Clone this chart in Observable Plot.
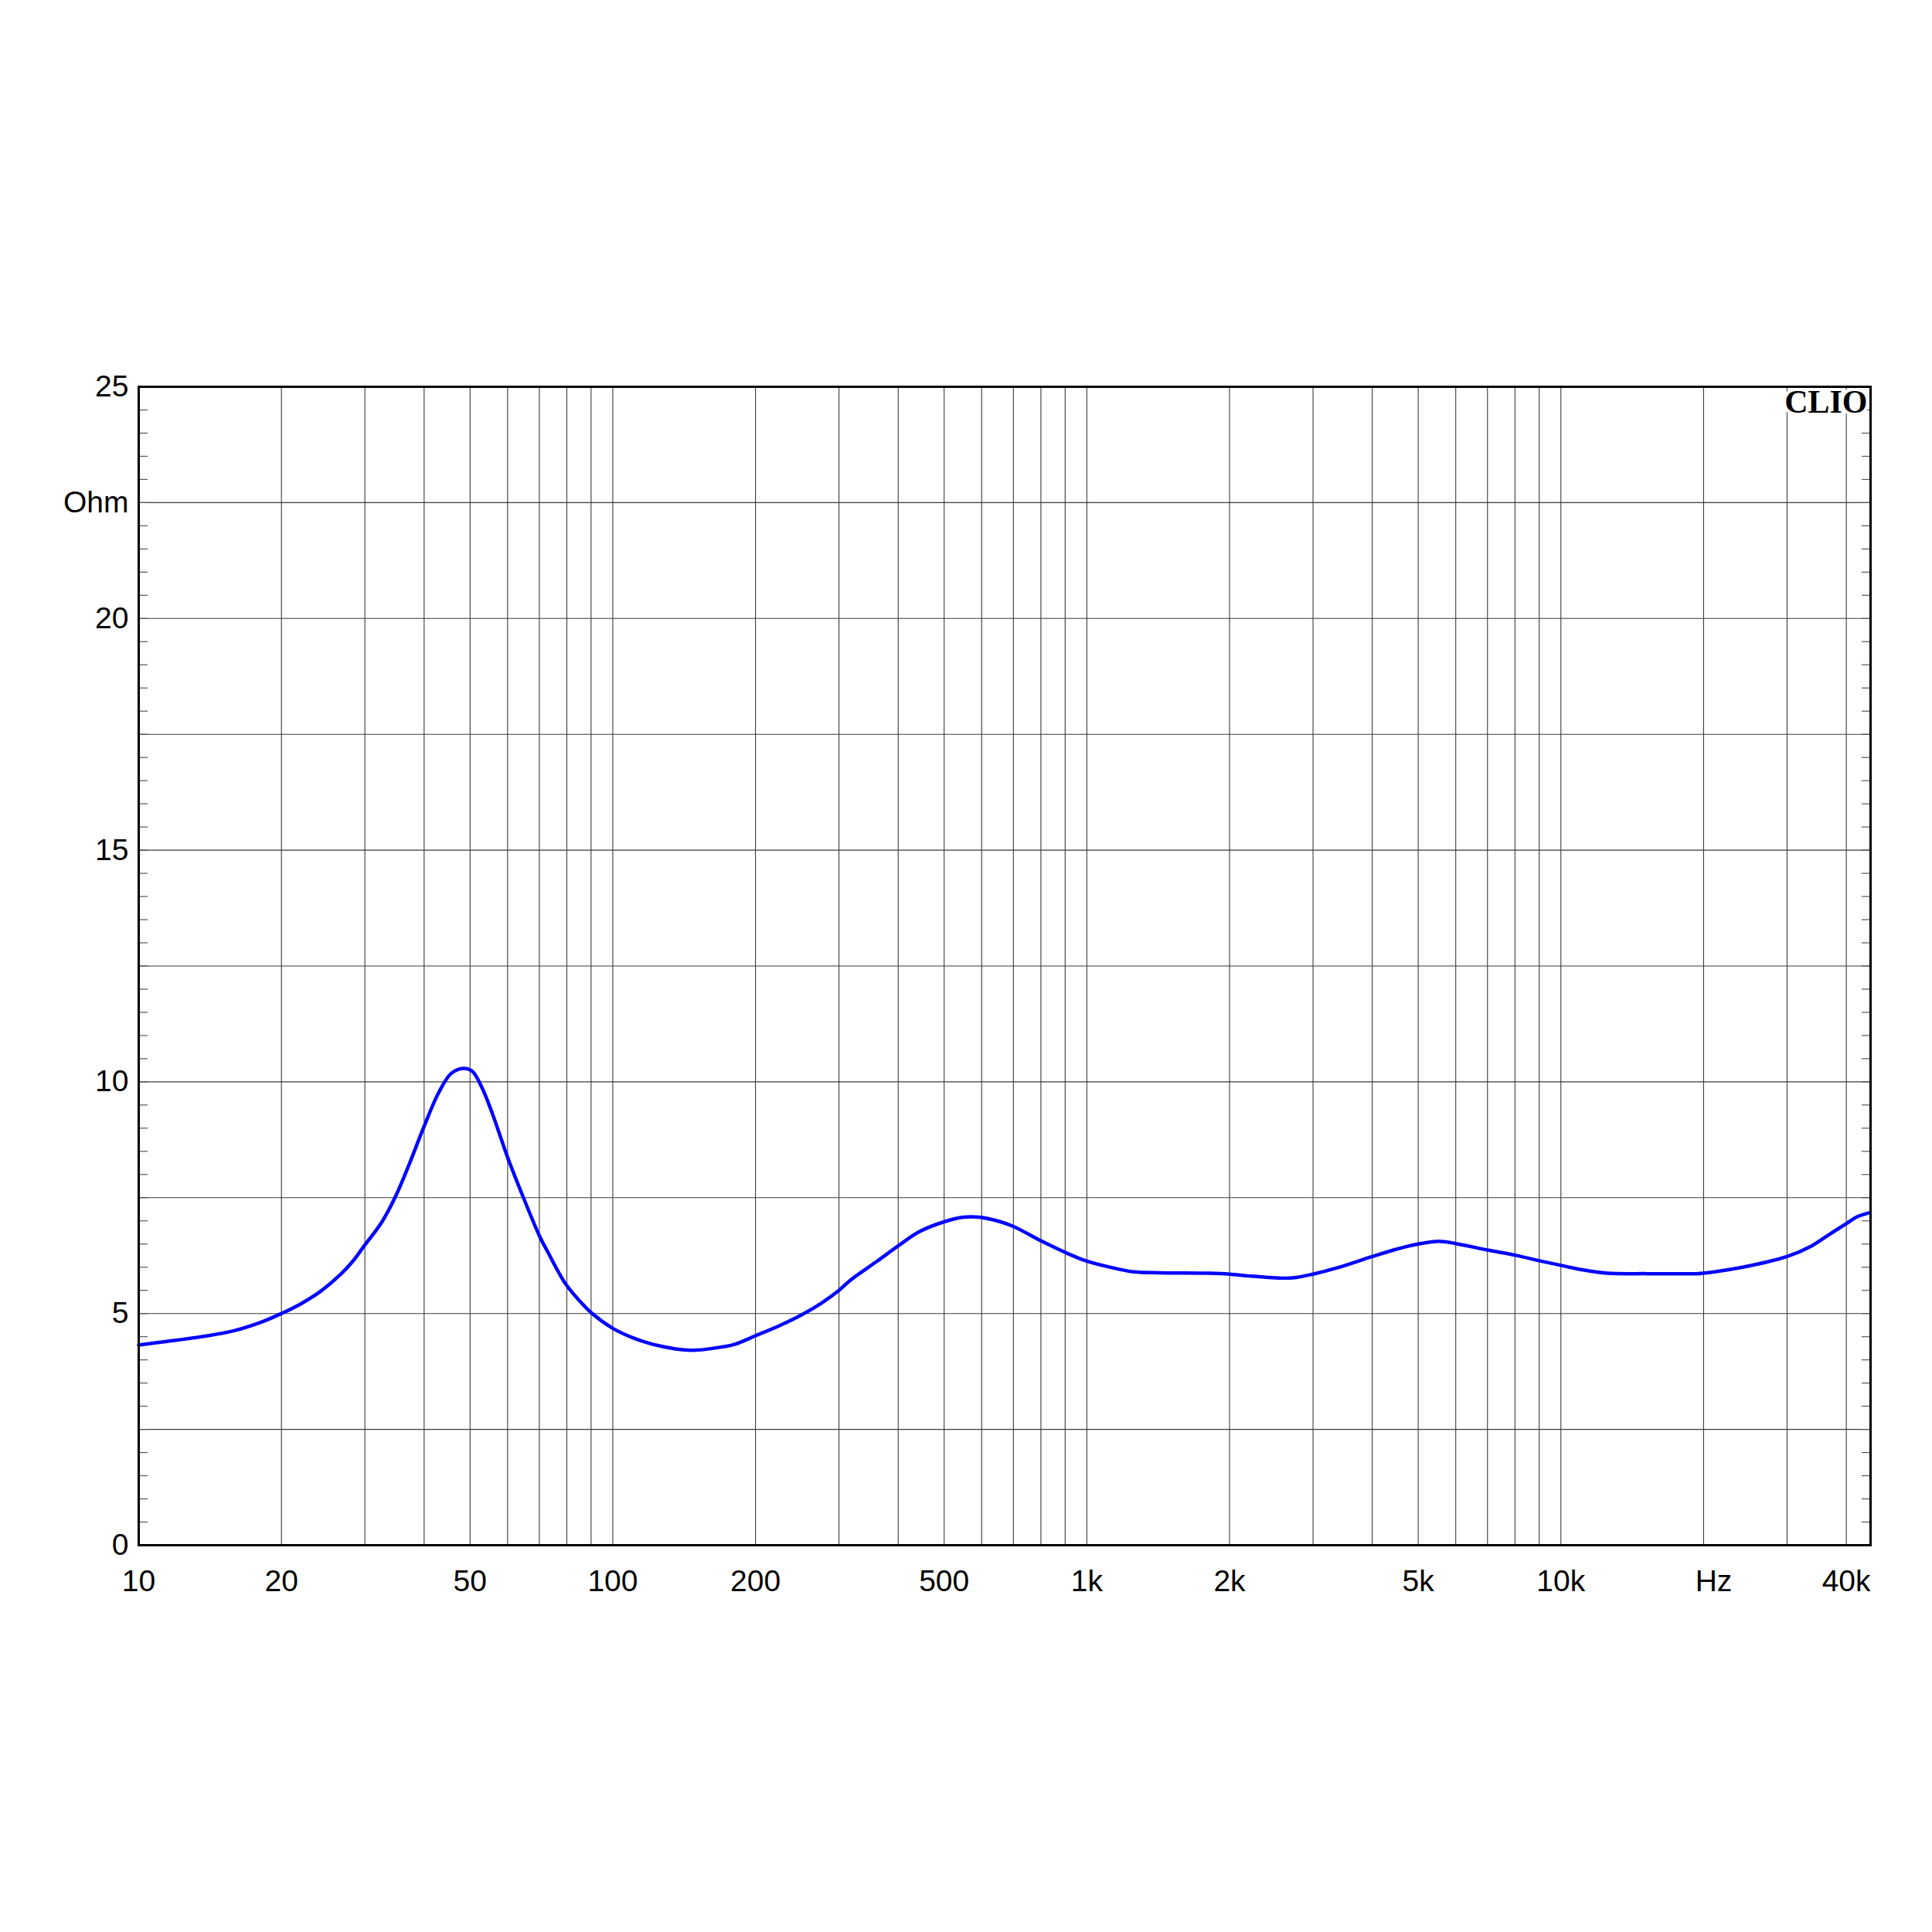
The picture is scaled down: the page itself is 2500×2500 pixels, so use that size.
<!DOCTYPE html>
<html>
<head>
<meta charset="utf-8">
<script src="https://cdn.jsdelivr.net/npm/d3@7"></script>
<script src="https://cdn.jsdelivr.net/npm/@observablehq/plot@0.6"></script>
<style>
  html, body { margin: 0; padding: 0; background: white; }
</style>
</head>
<body>
<div id="chart"></div>
<script>
// Impedance curve (Hz, Ohm)
const freqHz = [10, 11.3, 13.8, 15.9, 18.4, 20, 21.9, 24.2, 26.7, 28.4, 30, 32.6, 34.9, 37.4, 40, 42.9, 45.6, 48.4, 50.5, 53, 55.7, 60, 64.1, 70, 73, 79.4, 85, 90, 100, 110, 120, 130, 140, 150, 160, 180, 200, 225, 250, 275, 300, 318, 360, 400, 444, 500, 550, 592, 647, 700, 800, 900, 1000, 1164, 1255, 1421, 1813, 2000, 2198, 2500, 2723, 3000, 3359, 4000, 4466, 5000, 5528, 6000, 7000, 8000, 9000, 10000, 11130, 12520, 15200, 19330, 20000, 22440, 25550, 30000, 33800, 37000, 40000, 42000, 44500];
const impedanceOhm = [4.32, 4.39, 4.51, 4.63, 4.84, 5.0, 5.2, 5.48, 5.85, 6.15, 6.48, 6.98, 7.55, 8.28, 9.04, 9.76, 10.18, 10.29, 10.23, 9.87, 9.32, 8.37, 7.62, 6.68, 6.32, 5.65, 5.28, 5.02, 4.68, 4.48, 4.35, 4.27, 4.22, 4.21, 4.24, 4.33, 4.52, 4.74, 4.97, 5.22, 5.5, 5.73, 6.12, 6.46, 6.77, 6.98, 7.08, 7.08, 7.0, 6.88, 6.57, 6.32, 6.13, 5.96, 5.9, 5.88, 5.87, 5.85, 5.81, 5.77, 5.77, 5.85, 5.98, 6.23, 6.38, 6.5, 6.56, 6.51, 6.37, 6.26, 6.14, 6.04, 5.94, 5.87, 5.86, 5.86, 5.87, 5.94, 6.05, 6.23, 6.46, 6.72, 6.94, 7.08, 7.17];

// Axis / grid definitions
const xDomain = [10, 45000];
const yDomain = [0, 25];
const xGridFreqs = [20, 30, 40, 50, 60, 70, 80, 90, 100, 200, 300, 400, 500, 600, 700, 800, 900, 1000, 2000, 3000, 4000, 5000, 6000, 7000, 8000, 9000, 10000, 20000, 30000, 40000];
const yGridValues = [2.5, 5, 7.5, 10, 12.5, 15, 17.5, 20, 22.5];
const xTickValues = [10, 20, 50, 100, 200, 500, 1000, 2000, 5000, 10000, 40000];
const xTickLabels = ["10", "20", "50", "100", "200", "500", "1k", "2k", "5k", "10k", "40k"];
const xUnitTick = [20000];
const xUnitLabel = "Hz";
const yTickValues = [0, 5, 10, 15, 20, 22.5, 25];
const yTickLabels = ["0", "5", "10", "15", "20", "Ohm", "25"];
const yMinorTicks = d3.range(0.5, 25, 0.5);
const brandText = "CLIO";

const data = freqHz.map((f, i) => ({f, z: impedanceOhm[i]}));

const chart = Plot.plot({
  width: 2500,
  height: 2500,
  marginTop: 500,
  marginBottom: 501,
  marginLeft: 179,
  marginRight: 80,
  style: {fontFamily: "'Liberation Sans', Arial, sans-serif", fontSize: "39px", background: "white", color: "black"},
  x: {type: "log", domain: xDomain, label: null},
  y: {domain: yDomain, label: null},
  marks: [
    Plot.ruleX(xGridFreqs, {stroke: "#3a3a3a", strokeWidth: 1.1}),
    Plot.ruleY(yGridValues, {stroke: "#3a3a3a", strokeWidth: 1.1}),
    Plot.axisY(yMinorTicks, {anchor: "left", label: null, tickSize: -12, tickFormat: () => "", stroke: "#555", strokeWidth: 1.2}),
    Plot.axisY(yMinorTicks, {anchor: "right", label: null, tickSize: -12, tickFormat: () => "", stroke: "#555", strokeWidth: 1.2}),
    Plot.axisY(yTickValues, {anchor: "left", label: null, tickSize: 0, tickPadding: 13, tickFormat: (d) => yTickLabels[yTickValues.indexOf(d)], fontSize: 39, fill: "black"}),
    Plot.axisX(xTickValues, {anchor: "bottom", label: null, tickSize: 0, tickPadding: 32, tickFormat: (d) => xTickLabels[xTickValues.indexOf(d)], fontSize: 39, fill: "black"}),
    Plot.axisX(xUnitTick, {anchor: "bottom", label: null, tickSize: 0, tickPadding: 32, tickFormat: () => xUnitLabel, fontSize: 39, fill: "black", dx: 13}),
    Plot.line(data, {x: "f", y: "z", stroke: "#0000ff", strokeWidth: 4.5, curve: "catmull-rom"}),
    Plot.text([brandText], {frameAnchor: "top-right", text: (d) => d, dx: -4, dy: 4, lineAnchor: "top", fontFamily: "'Liberation Serif', 'DejaVu Serif', serif", fontWeight: "900", fontSize: 42, fill: "black", stroke: "white", strokeWidth: 8}),
    Plot.frame({stroke: "black", strokeWidth: 3})
  ]
});
document.getElementById("chart").appendChild(chart);
</script>
</body>
</html>
